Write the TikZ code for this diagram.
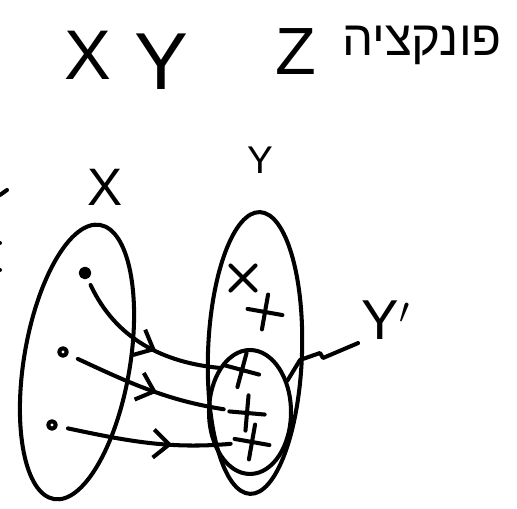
\documentclass[tikz,border=0pt]{standalone}
\usepackage{fontspec}
\setmainfont{Liberation Sans}
\newfontfamily\hebfont[Script=Hebrew]{Liberation Sans}
\TeXXeTstate=1
\usepackage{tikz}
\usetikzlibrary{shapes.geometric,shapes.misc}
\usetikzlibrary{arrows.meta,decorations.markings}
\usetikzlibrary{positioning}

\begin{document}
\begin{tikzpicture}[x=0.02cm,y=0.02cm,
  every path/.style={line width=2.3pt,line cap=round,line join=round},
  setnode/.style={ellipse,draw,inner sep=0pt},
  ptcross/.style={cross out,draw,minimum size=0.42cm,inner sep=0pt},
  dotpt/.style={circle,draw,fill,minimum size=0.17cm,inner sep=0pt},
  opt/.style={circle,draw,minimum size=0.15cm,inner sep=0pt},
  lbl/.style={inner sep=1pt,font=\fontsize{#1}{#1}\selectfont},
  midarrow/.style={postaction={decorate},decoration={markings,
    mark=at position #1 with {\arrow{Straight Barb[length=9pt,width=16pt,line width=2.3pt]}}}},
]
\useasboundingbox (0,0) rectangle (517,509);
% title
\node[lbl=40](tx) at(88,454){X}; \node[lbl=46](ty) at(161,447){Y};
\node[lbl=38](tz) at(296,457){Z};
\node[lbl=28](heb) at(422,464){\hebfont\beginR פונקציה\endR};
% sets
\node[setnode,minimum width=2.12cm,minimum height=5.56cm,rotate=-9.5](X) at(77,147){};
\node[setnode,minimum width=1.88cm,minimum height=5.64cm,rotate=-2](Y) at(255,156){};
\node[setnode,minimum width=1.64cm,minimum height=2.48cm](Yp) at(250,97){};
\node[lbl=30](lx) at(105,322){X}; \node[lbl=22](ly) at(260,349){Y};
\node[lbl=32](lyp) at(386,189){Y$'$};
% elements
\node[dotpt](d1) at(85,236){}; \node[opt](d2) at(63,157){}; \node[opt](d3) at(52,84){};
\node[ptcross](c1) at(243,231){}; \node[ptcross,rotate=35](c2) at(265,197){};
\node[ptcross,rotate=30](c3) at(242,139){}; \node[ptcross,rotate=40](c4) at(247,96){};
\node[ptcross,rotate=35](c5) at(252,67){};
% map
\draw[midarrow=0.58,shorten <=4pt,shorten >=4pt](d1) to[out=-65,in=170] (c3);
\draw[midarrow=0.56,shorten <=6pt,shorten >=4pt](d2) to[out=-25,in=165] (c4);
\draw[midarrow=0.64,shorten <=6pt,shorten >=4pt](d3) to[out=-12,in=180] (c5);
\draw(Yp.40) -- (300,149) -- (320,156) -- (323,151) -- (lyp.south west);
% cut-off marks
\draw(0,314) -- (7,319); \fill(0,266) circle(2); \fill(0,239) circle(2);
\end{tikzpicture}
\end{document}
